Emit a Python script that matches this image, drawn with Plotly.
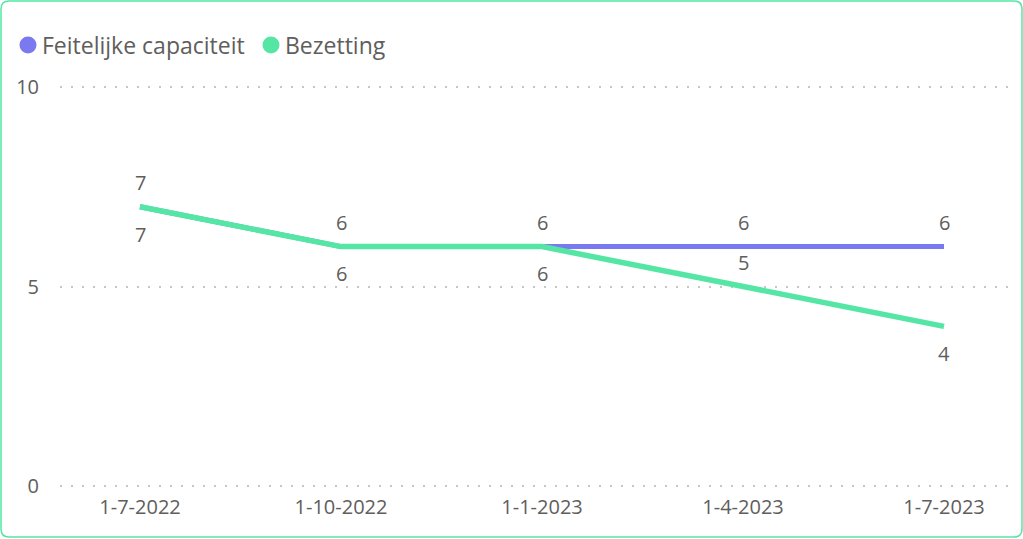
import plotly.graph_objects as go

# Quarterly dates and series values
dates = ["1-7-2022", "1-10-2022", "1-1-2023", "1-4-2023", "1-7-2023"]
capaciteit = [7, 6, 6, 6, 6]
bezetting = [7, 6, 6, 5, 4]
y_ticks = [0, 5, 10]
series_names = ["Feitelijke capaciteit", "Bezetting"]

W, H = 1023, 539
# plot area: y=10 at 87px, y=0 at 486px (a small pad keeps the edge gridlines whole)
PAD_U = 0.2
UNIT = 39.9
L, R = 60, 8
T = 87 - PAD_U * UNIT
B = (H - 486) - PAD_U * UNIT
PW, PH = W - L - R, H - T - B

purple = "#7B79EF"
green = "#55E6A5"
label_color = "#605E5C"
font_family = "Open Sans, Segoe UI, sans-serif"

xs = list(range(len(dates)))

# category centres 201px apart, first one at 140px
step = 201.0
x_lo = (L - 140) / step
x_hi = x_lo + PW / step

fig = go.Figure()
fig.add_trace(go.Scatter(
    x=xs, y=capaciteit, name=series_names[0], mode="lines",
    line=dict(color=purple, width=5), showlegend=False, cliponaxis=False,
))
fig.add_trace(go.Scatter(
    x=xs, y=bezetting, name=series_names[1], mode="lines",
    line=dict(color=green, width=5.5), showlegend=False, cliponaxis=False,
))

# data labels: capacity above its line, occupancy below (above where it would collide)
lab_font = dict(color=label_color, size=20, family=font_family)
for x, v in zip(xs, capaciteit):
    fig.add_annotation(x=x, y=v, text=str(v), showarrow=False,
                       yshift=24, font=lab_font)
bez_shift = [-28, -27, -27, 24, -27]
for x, v, s in zip(xs, bezetting, bez_shift):
    fig.add_annotation(x=x, y=v, text=str(v), showarrow=False,
                       yshift=s, font=lab_font)


def px(x):
    return (x - L) / PW


def py(y):
    return (H - B - y) / PH


# legend: coloured dots followed by series names
legend_items = [(series_names[0], purple, 28), (series_names[1], green, 271)]
for name, col, cx in legend_items:
    rad = 8.5
    fig.add_shape(type="circle", xref="paper", yref="paper",
                  x0=px(cx - rad), x1=px(cx + rad),
                  y0=py(45 + rad), y1=py(45 - rad),
                  fillcolor=col, line=dict(width=0))
    fig.add_annotation(xref="paper", yref="paper", x=px(cx + 12), y=py(45),
                       xanchor="left", yanchor="middle", text=name,
                       showarrow=False,
                       font=dict(size=23, color=label_color, family=font_family))

# rounded card border
x0, x1, y0, y1, r = 1, 1022, 1, 537, 8
path = (
    f"M {px(x0 + r)},{py(y0)} L {px(x1 - r)},{py(y0)} "
    f"Q {px(x1)},{py(y0)} {px(x1)},{py(y0 + r)} "
    f"L {px(x1)},{py(y1 - r)} "
    f"Q {px(x1)},{py(y1)} {px(x1 - r)},{py(y1)} "
    f"L {px(x0 + r)},{py(y1)} "
    f"Q {px(x0)},{py(y1)} {px(x0)},{py(y1 - r)} "
    f"L {px(x0)},{py(y0 + r)} "
    f"Q {px(x0)},{py(y0)} {px(x0 + r)},{py(y0)} Z"
)
fig.add_shape(type="path", path=path, xref="paper", yref="paper",
              line=dict(color=green, width=1.5), layer="below")

fig.update_layout(
    width=W, height=H,
    margin=dict(l=L, r=R, t=T, b=B, pad=0),
    paper_bgcolor="white", plot_bgcolor="white",
    font=dict(family=font_family, color=label_color, size=20),
    showlegend=False,
    xaxis=dict(
        range=[x_lo, x_hi], tickvals=xs, ticktext=dates,
        showgrid=False, zeroline=False, showline=False, ticks="",
        ticklabelstandoff=-1,
        tickfont=dict(size=20, color=label_color),
        fixedrange=True,
    ),
    yaxis=dict(
        range=[-PAD_U, 10 + PAD_U], tickvals=y_ticks, showgrid=True,
        gridcolor="#C8C6C4", gridwidth=2, griddash="2px,9px",
        zeroline=False, showline=False, ticks="", ticklabelstandoff=20,
        tickfont=dict(size=20, color=label_color),
        fixedrange=True,
    ),
)

fig.write_html("out.html")
